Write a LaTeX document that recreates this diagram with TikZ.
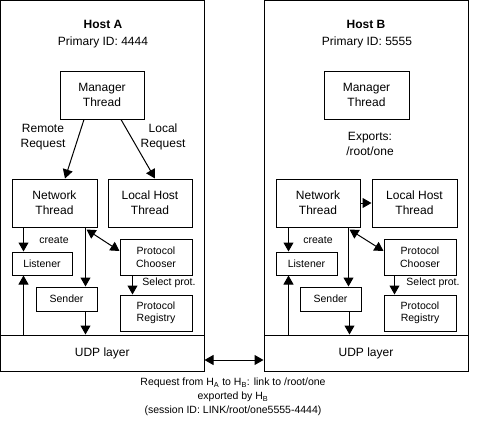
\documentclass[tikz,border=0pt]{standalone}
\usepackage{fontspec}
\setmainfont{Liberation Sans}
\usetikzlibrary{arrows.meta,calc}
\begin{document}
\begin{tikzpicture}[x=1pt,y=-1pt,
  lw/.style={line width=1pt},
  box/.style={draw,lw,inner sep=0pt,align=center,font=\fontsize{12}{15}\selectfont},
  sbox/.style={draw,lw,inner sep=0pt,align=center,font=\fontsize{10.5}{12.5}\selectfont},
  lbl/.style={inner sep=0pt,align=center,font=\fontsize{12}{14.5}\selectfont},
  slbl/.style={inner sep=0pt,align=center,font=\fontsize{10.5}{14}\selectfont},
  arr/.style={lw,-{Triangle[length=9pt,width=10pt]}},
  darr/.style={lw,{Triangle[length=9pt,width=10pt]}-{Triangle[length=9pt,width=10pt]}}
]
\useasboundingbox (0,0) rectangle (482,424);
% frames
\node[draw,lw,minimum width=203.5pt,minimum height=370.5pt,inner sep=0pt] (hostA) at (102.25,185.75) {};
\node[draw,lw,minimum width=204pt,minimum height=370.5pt,inner sep=0pt] (hostB) at (366,185.75) {};
% Host A
\node[lbl,font=\fontsize{12}{15}\selectfont\bfseries] (titleA) at (103,24) {Host A};
\node[lbl] (idA) at (103,42) {Primary ID: 4444};
\node[box,minimum width=84pt,minimum height=48pt] (mgrA) at (102,95) {Manager\\Thread};
\node[box,minimum width=85pt,minimum height=48pt] (netA) at (54.5,203) {Network\\Thread};
\node[box,minimum width=84pt,minimum height=48pt] (locA) at (150,203) {Local Host\\Thread};
\node[sbox,minimum width=60pt,minimum height=23pt] (lisA) at (42,263.5) {Listener};
\node[sbox,minimum width=61pt,minimum height=24pt] (senA) at (66.5,299) {Sender};
\node[sbox,minimum width=72pt,minimum height=36pt] (choA) at (156,257) {Protocol\\Chooser};
\node[sbox,minimum width=72pt,minimum height=36pt] (regA) at (156,313) {Protocol\\Registry};
\node[box,minimum width=203.5pt,minimum height=36pt] (udpA) at (102.25,353) {UDP layer};
\node[lbl] (remA) at (43,137) {Remote\\Request};
\node[lbl] (locrA) at (163,137) {Local\\Request};
\node[slbl] (creA) at (54,240) {create};
\node[slbl] (selA) at (169,283) {Select prot.};
\draw[arr] ([xshift=-18pt]mgrA.south) -- ([xshift=10.5pt]netA.north);
\draw[arr] ([xshift=19pt]mgrA.south) -- ([xshift=5pt]locA.north);
\draw[arr] ([xshift=12pt]netA.south west) -- ([xshift=12pt]netA.south west |- lisA.north);
\draw[arr] ([xshift=-12pt]netA.south east) -- ([xshift=-12pt]netA.south east |- senA.north);
\draw[arr] ([xshift=-12pt]senA.south east) -- ([xshift=-12pt]senA.south east |- udpA.north);
\draw[arr] ([xshift=12pt]lisA.south west |- udpA.north) -- ([xshift=12pt]lisA.south west);
\draw[arr] ([xshift=13pt]choA.south west) -- ([xshift=13pt]regA.north west);
\draw[darr] ([xshift=-11pt,yshift=-2pt]netA.south east) -- ([yshift=6pt]choA.west);
% Host B
\node[lbl,font=\fontsize{12}{15}\selectfont\bfseries] (titleB) at (366,24) {Host B};
\node[lbl] (idB) at (367,42) {Primary ID: 5555};
\node[box,minimum width=85pt,minimum height=48pt] (mgrB) at (366.5,95) {Manager\\Thread};
\node[lbl] (expB) at (370,144) {Exports:\\/root/one};
\node[box,minimum width=84pt,minimum height=48pt] (netB) at (318,203) {Network\\Thread};
\node[box,minimum width=85pt,minimum height=48pt] (locB) at (414.5,203) {Local Host\\Thread};
\node[sbox,minimum width=61pt,minimum height=23pt] (lisB) at (306.5,263.5) {Listener};
\node[sbox,minimum width=61pt,minimum height=24pt] (senB) at (330.5,299) {Sender};
\node[sbox,minimum width=72pt,minimum height=36pt] (choB) at (420,257) {Protocol\\Chooser};
\node[sbox,minimum width=72pt,minimum height=36pt] (regB) at (420,313) {Protocol\\Registry};
\node[box,minimum width=204pt,minimum height=36pt] (udpB) at (366,353) {UDP layer};
\node[slbl] (creB) at (318,240) {create};
\node[slbl] (selB) at (433,283) {Select prot.};
\draw[arr] (netB.east) -- (locB.west);
\draw[arr] ([xshift=13pt]netB.south west) -- ([xshift=13pt]netB.south west |- lisB.north);
\draw[arr] ([xshift=-12pt]netB.south east) -- ([xshift=-12pt]netB.south east |- senB.north);
\draw[arr] ([xshift=-12pt]senB.south east) -- ([xshift=-12pt]senB.south east |- udpB.north);
\draw[arr] ([xshift=13pt]lisB.south west |- udpB.north) -- ([xshift=13pt]lisB.south west);
\draw[arr] ([xshift=11pt]choB.south west) -- ([xshift=11pt]regB.north west);
\draw[darr] ([xshift=-11pt,yshift=-2pt]netB.south east) -- ([yshift=6pt]choB.west);
% link
\draw[darr] ([yshift=-7pt]udpA.east) -- ([yshift=-7pt]udpB.west);
\node[slbl] (note) at (233,397) {Request from H\textsubscript{A} to H\textsubscript{B}: link to /root/one\\exported by H\textsubscript{B}\\(session ID: LINK/root/one5555-4444)};
\end{tikzpicture}
\end{document}
